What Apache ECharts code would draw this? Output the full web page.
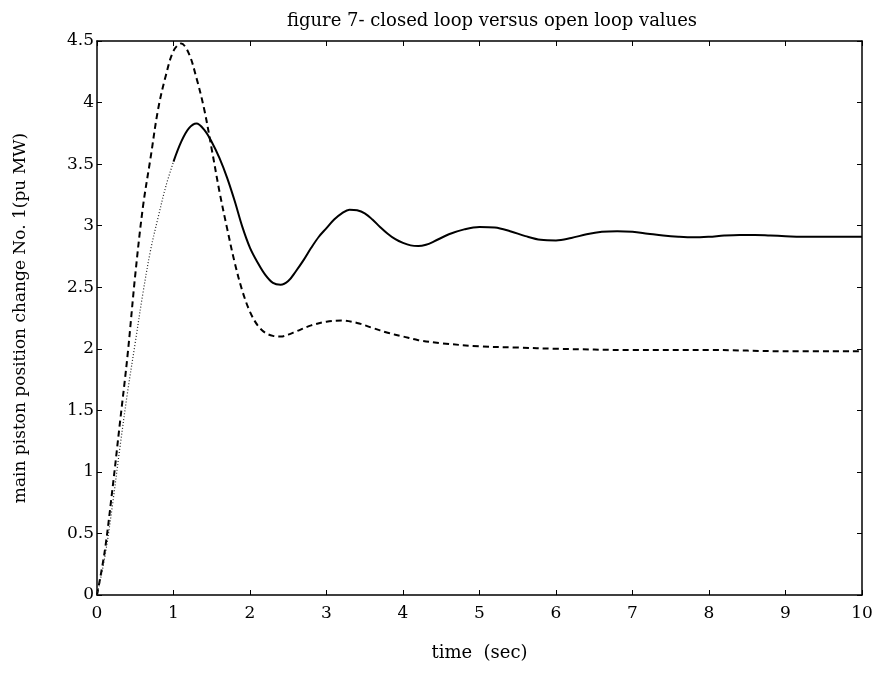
<!DOCTYPE html>
<html>
<head>
<meta charset="utf-8">
<script src="https://cdn.jsdelivr.net/npm/echarts@6/dist/echarts.min.js"></script>
<style>
  html, body { margin: 0; padding: 0; background: #fff; }
  #main { width: 877px; height: 678px; }
</style>
</head>
<body>
<div id="main"></div>
<script>
  // closed loop response (solid curve, rising part looks dotted in the scan)
  var closedT = [0, 0.1, 0.2, 0.3, 0.4, 0.5, 0.6, 0.7, 0.8, 0.9, 1.0, 1.1, 1.2, 1.3, 1.4, 1.5, 1.6, 1.7, 1.8, 1.9, 2.0, 2.1, 2.2, 2.3, 2.4, 2.5, 2.6, 2.7, 2.8, 2.9, 3.0, 3.1, 3.2, 3.3, 3.4, 3.5, 3.6, 3.7, 3.8, 3.9, 4.0, 4.1, 4.2, 4.3, 4.4, 4.6, 4.8, 5.0, 5.2, 5.4, 5.6, 5.8, 6.0, 6.2, 6.4, 6.6, 6.8, 7.0, 7.2, 7.4, 7.6, 7.8, 8.0, 8.2, 8.4, 8.6, 8.8, 9.0, 9.2, 9.6, 10];
  var closedV = [0, 0.3, 0.72, 1.2, 1.65, 2.05, 2.45, 2.8, 3.07, 3.32, 3.52, 3.68, 3.79, 3.83, 3.78, 3.68, 3.55, 3.39, 3.2, 2.99, 2.82, 2.7, 2.6, 2.535, 2.52, 2.55, 2.63, 2.72, 2.82, 2.91, 2.98, 3.05, 3.1, 3.13, 3.125, 3.1, 3.05, 2.99, 2.935, 2.89, 2.86, 2.84, 2.835, 2.845, 2.87, 2.93, 2.97, 2.99, 2.985, 2.955, 2.915, 2.885, 2.88, 2.9, 2.93, 2.95, 2.955, 2.95, 2.935, 2.92, 2.91, 2.905, 2.91, 2.92, 2.925, 2.925, 2.92, 2.915, 2.91, 2.91, 2.91];
  // open loop response (dashed curve)
  var openT = [0, 0.1, 0.2, 0.3, 0.4, 0.5, 0.6, 0.7, 0.8, 0.9, 1.0, 1.1, 1.2, 1.3, 1.4, 1.5, 1.6, 1.7, 1.8, 1.9, 2.0, 2.1, 2.2, 2.3, 2.4, 2.5, 2.6, 2.8, 3.0, 3.2, 3.4, 3.6, 3.8, 4.0, 4.2, 4.5, 5, 5.5, 6, 7, 8, 9, 10];
  var openV = [0, 0.35, 0.85, 1.4, 1.95, 2.6, 3.15, 3.55, 3.95, 4.22, 4.42, 4.48, 4.4, 4.2, 3.95, 3.62, 3.28, 2.98, 2.7, 2.47, 2.3, 2.19, 2.13, 2.105, 2.1, 2.115, 2.14, 2.19, 2.22, 2.23, 2.21, 2.17, 2.13, 2.1, 2.07, 2.045, 2.02, 2.01, 2.0, 1.99, 1.99, 1.98, 1.98];
  var xTicks = [0, 1, 2, 3, 4, 5, 6, 7, 8, 9, 10];
  var yTicks = [0, 0.5, 1, 1.5, 2, 2.5, 3, 3.5, 4, 4.5];

  function pairs(ts, vs, from, to) {
    var out = [];
    for (var i = 0; i < ts.length; i++) {
      if (ts[i] >= from && ts[i] <= to) out.push([ts[i], vs[i]]);
    }
    return out;
  }

  var serif = 'DejaVu Serif';
  var myChart = echarts.init(document.getElementById('main'));

  var frameX = {
    type: 'value', min: 0, max: 10, interval: 1,
    splitLine: { show: false },
    axisLine: { show: true, onZero: false, lineStyle: { color: '#000', width: 1.5 } },
    axisTick: { show: true, inside: true, length: 5, lineStyle: { color: '#000' } }
  };
  var frameY = {
    type: 'value', min: 0, max: 4.5, interval: 0.5,
    splitLine: { show: false },
    axisLine: { show: true, onZero: false, lineStyle: { color: '#000', width: 1.5 } },
    axisTick: { show: true, inside: true, length: 5, lineStyle: { color: '#000' } }
  };

  var option = {
    animation: false,
    backgroundColor: '#fff',
    title: {
      text: 'figure 7- closed loop versus open loop values',
      left: 487, top: 7,
      textAlign: 'center',
      textStyle: { fontFamily: serif, fontSize: 18, fontWeight: 'normal', color: '#000' }
    },
    grid: { left: 97, right: 15, top: 41, bottom: 83, containLabel: false },
    xAxis: [
      Object.assign({}, frameX, {
        position: 'bottom',
        name: 'time  (sec)', nameLocation: 'middle', nameGap: 49,
        nameTextStyle: { fontFamily: serif, fontSize: 18, color: '#000' },
        axisLabel: {
          margin: 10, color: '#000', fontFamily: serif, fontSize: 17,
          formatter: function (v) { return xTicks.indexOf(v) >= 0 ? String(v) : ''; }
        }
      }),
      Object.assign({}, frameX, { position: 'top', axisLabel: { show: false } })
    ],
    yAxis: [
      Object.assign({}, frameY, {
        position: 'left',
        name: 'main piston position change No. 1(pu MW)', nameLocation: 'middle', nameGap: 68,
        nameTextStyle: { fontFamily: serif, fontSize: 17, color: '#000' },
        axisLabel: {
          margin: 3, color: '#000', fontFamily: serif, fontSize: 17,
          formatter: function (v) { return yTicks.indexOf(v) >= 0 ? String(v) : ''; }
        }
      }),
      Object.assign({}, frameY, { position: 'right', axisLabel: { show: false } })
    ],
    series: [
      {
        type: 'line', smooth: 0.35, symbol: 'none',
        data: pairs(openT, openV, 0, 10),
        lineStyle: { color: '#000', width: 2, type: [6, 4] }
      },
      {
        type: 'line', smooth: 0.35, symbol: 'none',
        data: pairs(closedT, closedV, 0, 1.0),
        lineStyle: { color: '#222', width: 1.2, type: [1, 2] }
      },
      {
        type: 'line', smooth: 0.35, symbol: 'none',
        data: pairs(closedT, closedV, 1.0, 10),
        lineStyle: { color: '#000', width: 2 }
      }
    ]
  };
  myChart.setOption(option);
</script>
</body>
</html>
